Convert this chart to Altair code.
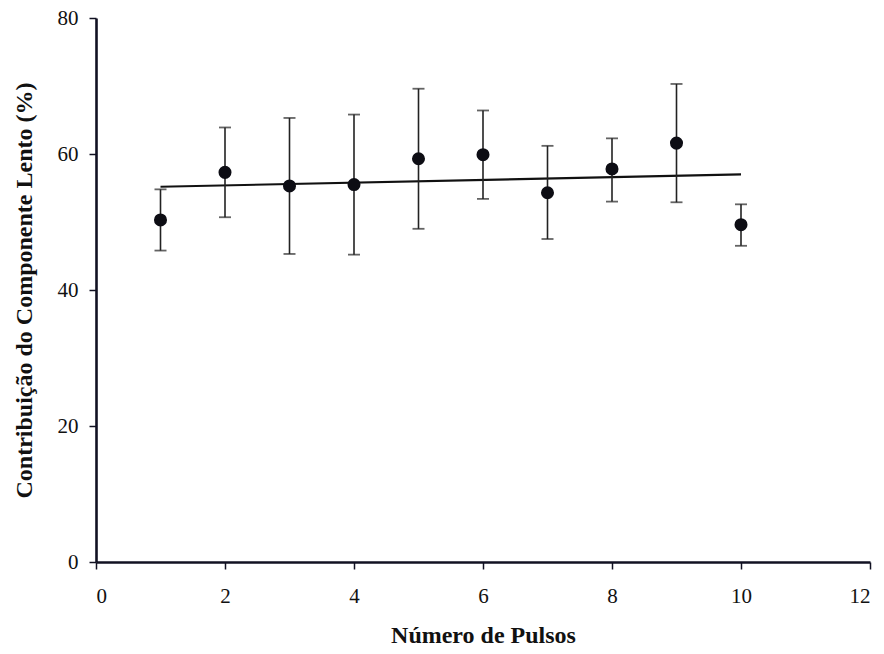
import altair as alt
import pandas as pd

# Número de pulsos e contribuição média do componente lento (%), com barras de erro
pulsos = [1, 2, 3, 4, 5, 6, 7, 8, 9, 10]
media = [50.3, 57.3, 55.3, 55.5, 59.3, 59.9, 54.3, 57.8, 61.6, 49.6]
limite_sup = [54.8, 63.9, 65.3, 65.8, 69.6, 66.4, 61.2, 62.3, 70.3, 52.6]
limite_inf = [45.8, 50.7, 45.3, 45.2, 49.0, 53.4, 47.5, 53.0, 52.9, 46.5]

x_ticks = [0, 2, 4, 6, 8, 10, 12]
y_ticks = [0, 20, 40, 60, 80]

df = pd.DataFrame({
    "pulsos": pulsos,
    "media": media,
    "sup": limite_sup,
    "inf": limite_inf,
})

FONT = "Liberation Serif"

x_enc = alt.X(
    "pulsos:Q",
    scale=alt.Scale(domain=[0, 12], nice=False, zero=True),
    axis=alt.Axis(values=x_ticks, title="Número de Pulsos", format="d"),
)
y_enc = alt.Y(
    "media:Q",
    scale=alt.Scale(domain=[0, 80], nice=False),
    axis=alt.Axis(values=y_ticks, title="Contribuição do Componente Lento (%)", format="d"),
)

base = alt.Chart(df)

barras = base.mark_rule(color="#222222", strokeWidth=1.6).encode(
    x="pulsos:Q", y="inf:Q", y2="sup:Q"
)
cap_sup = base.mark_tick(color="#222222", orient="horizontal", size=12, thickness=1.8).encode(
    x="pulsos:Q", y="sup:Q"
)
cap_inf = base.mark_tick(color="#222222", orient="horizontal", size=12, thickness=1.8).encode(
    x="pulsos:Q", y="inf:Q"
)
pontos = base.mark_circle(color="#0d0d14", opacity=1, size=170).encode(x=x_enc, y=y_enc)

tendencia = base.transform_regression(
    "pulsos", "media", extent=[1, 10]
).mark_line(color="#111111", strokeWidth=2.2).encode(x="pulsos:Q", y="media:Q")

chart = (
    alt.layer(tendencia, barras, cap_sup, cap_inf, pontos)
    .properties(
        width=774,
        height=544,
        autosize=alt.AutoSizeParams(type="none"),
        padding={"left": 96, "top": 18, "right": 14, "bottom": 92},
    )
    .configure_view(stroke=None)
    .configure_axis(
        grid=False,
        domainColor="#111122",
        domainWidth=2.6,
        tickColor="#111122",
        tickWidth=1.5,
        tickSize=7,
        labelFont=FONT,
        labelFontSize=21,
        labelColor="#111111",
        titleFont=FONT,
        titleFontSize=24,
        titleFontWeight="bold",
        titleColor="#111111",
    )
    .configure_axisX(labelPadding=16, titlePadding=17)
    .configure_axisY(labelPadding=11, titlePadding=21)
)

chart.save("out.html", embed_options={"renderer": "svg", "actions": False})
